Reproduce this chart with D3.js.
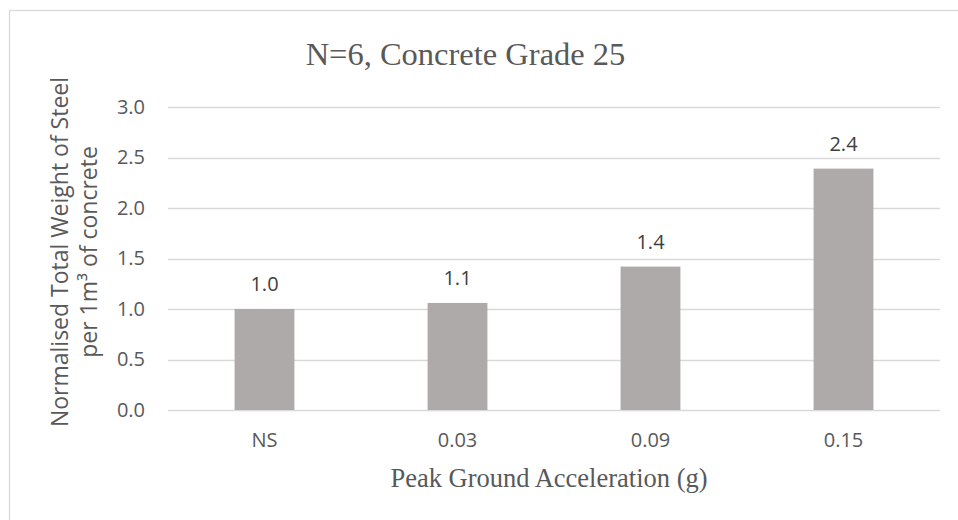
<!DOCTYPE html>
<html>
<head>
<meta charset="utf-8">
<script src="https://cdn.jsdelivr.net/npm/d3@7"></script>
<style>
  html, body { margin: 0; padding: 0; background: #fff; }
  svg { display: block; }
</style>
</head>
<body>
<svg id="chart" width="958" height="520"></svg>
<script>
// Data
const categories = ["NS", "0.03", "0.09", "0.15"];
const values = [1.0, 1.06, 1.42, 2.39];
const yTicks = [0, 0.5, 1.0, 1.5, 2.0, 2.5, 3.0];
const titleText = "N=6, Concrete Grade 25";
const xTitleText = "Peak Ground Acceleration (g)";
const yTitleLines = ["Normalised Total Weight of Steel", "per 1m\u00B3 of concrete"];

const svg = d3.select("#chart");
const plot = { left: 168, right: 940, top: 107, bottom: 410 };

const textColor = "#595959";
const gridColor = "#d9d9d9";
const barColor = "#aeaaaa";
const sans = "'Open Sans', 'Liberation Sans', sans-serif";
const serif = "'Liberation Serif', 'DejaVu Serif', serif";

// Chart frame (runs past the right and bottom edges)
svg.append("rect")
  .attr("x", 9.5).attr("y", 10.5)
  .attr("width", 1000).attr("height", 1000)
  .attr("fill", "none")
  .attr("stroke", gridColor)
  .attr("stroke-width", 1.3);

const x = d3.scaleBand()
  .domain(categories)
  .range([plot.left, plot.right])
  .paddingInner(0.69)
  .paddingOuter(0.345);

const y = d3.scaleLinear()
  .domain([0, 3.0])
  .range([plot.bottom, plot.top]);

// Gridlines
svg.append("g")
  .selectAll("line")
  .data(yTicks)
  .join("line")
  .attr("x1", plot.left).attr("x2", plot.right)
  .attr("y1", d => Math.round(y(d)) + 0.5)
  .attr("y2", d => Math.round(y(d)) + 0.5)
  .attr("stroke", gridColor)
  .attr("stroke-width", 1.3);

// Y axis labels
const yAxis = d3.axisLeft(y)
  .tickValues(yTicks)
  .tickFormat(d3.format(".1f"))
  .tickSize(0)
  .tickPadding(23);
const yG = svg.append("g")
  .attr("transform", `translate(${plot.left},0)`)
  .call(yAxis);
yG.select(".domain").remove();
yG.selectAll("text")
  .attr("fill", textColor)
  .style("font-family", sans)
  .style("font-size", "20px");

// Bars
svg.append("g")
  .selectAll("rect")
  .data(values)
  .join("rect")
  .attr("x", (d, i) => x(categories[i]))
  .attr("width", x.bandwidth())
  .attr("y", d => y(d))
  .attr("height", d => y(0) - y(d))
  .attr("fill", barColor);

// Value labels
svg.append("g")
  .selectAll("text")
  .data(values)
  .join("text")
  .attr("x", (d, i) => x(categories[i]) + x.bandwidth() / 2)
  .attr("y", d => y(d) - 18)
  .attr("text-anchor", "middle")
  .attr("fill", "#404040")
  .style("font-family", sans)
  .style("font-size", "20px")
  .text(d => d3.format(".1f")(d));

// X axis labels
const xAxis = d3.axisBottom(x).tickSize(0).tickPadding(23);
const xG = svg.append("g")
  .attr("transform", `translate(0,${plot.bottom})`)
  .call(xAxis);
xG.select(".domain").remove();
xG.selectAll("text")
  .attr("fill", textColor)
  .style("font-family", sans)
  .style("font-size", "20px");

// Title
svg.append("text")
  .attr("x", 465.5).attr("y", 65)
  .attr("text-anchor", "middle")
  .attr("fill", textColor)
  .style("font-family", serif)
  .style("font-size", "32.5px")
  .text(titleText);

// X axis title
svg.append("text")
  .attr("x", 549).attr("y", 487)
  .attr("text-anchor", "middle")
  .attr("fill", textColor)
  .style("font-family", serif)
  .style("font-size", "26.5px")
  .text(xTitleText);

// Y axis title (two lines)
svg.append("g")
  .selectAll("text")
  .data(yTitleLines)
  .join("text")
  .attr("transform", (d, i) => `translate(${[68, 97][i]},252) rotate(-90)`)
  .attr("text-anchor", "middle")
  .attr("fill", textColor)
  .style("font-family", sans)
  .style("font-size", "23px")
  .text(d => d);
</script>
</body>
</html>
